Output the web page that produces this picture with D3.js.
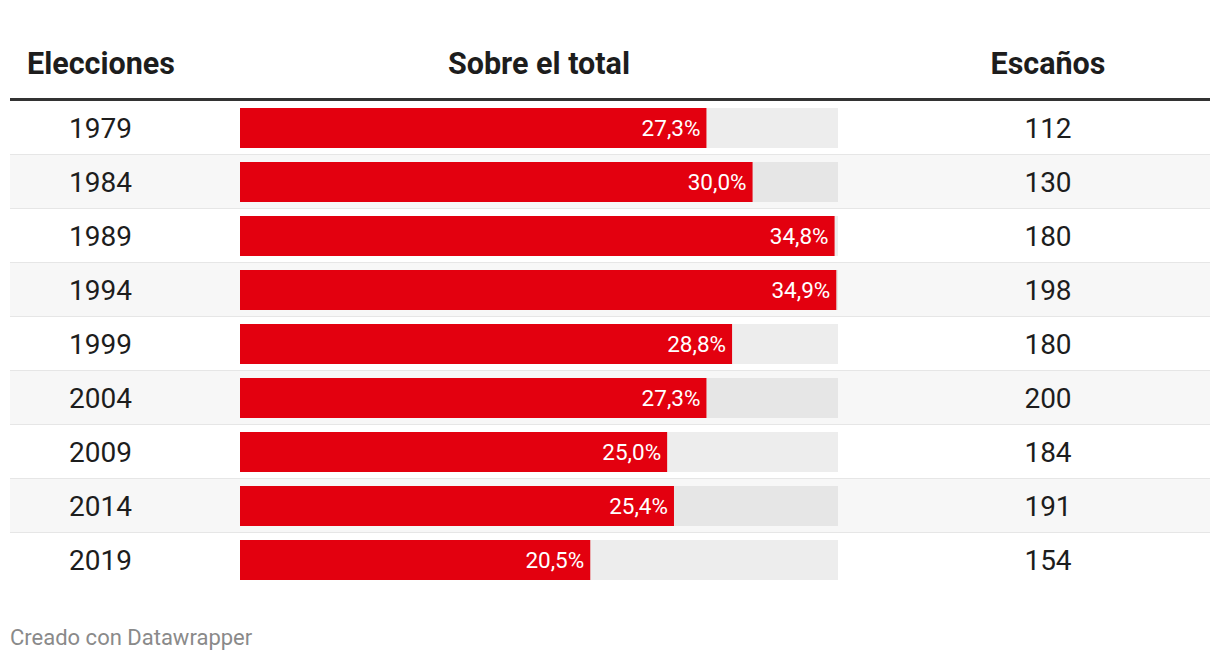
<!DOCTYPE html>
<html><head><meta charset="utf-8">
<script src="https://cdn.jsdelivr.net/npm/d3@7"></script>
<style>body{margin:0;background:#fff;font-family:Roboto,sans-serif}</style>
</head><body><svg id="c" width="1220" height="662"></svg>
<script>
const years = ["1979","1984","1989","1994","1999","2004","2009","2014","2019"];
const shares = [27.3,30.0,34.8,34.9,28.8,27.3,25.0,25.4,20.5];
const seats = [112,130,180,198,180,200,184,191,154];
const headers = ["Elecciones","Sobre el total","Escaños"];

const svg = d3.select("#c");
const fmt = v => d3.format(".1f")(v).replace(".", ",") + "%";
const top0 = 101, rowH = 54;
const y = d3.scaleBand().domain(years).range([top0, top0 + rowH*years.length]).padding(0);
const x = d3.scaleLinear().domain([0,35]).range([240,838]);

// headers
svg.append("text").attr("x",27).attr("y",74).text(headers[0])
  .attr("font-size",30.5).attr("font-weight",700).attr("fill","#1d1d1d");
svg.append("text").attr("x",539).attr("y",74).attr("text-anchor","middle").text(headers[1])
  .attr("font-size",30.5).attr("font-weight",700).attr("fill","#1d1d1d");
svg.append("text").attr("x",1048).attr("y",74).attr("text-anchor","middle").text(headers[2])
  .attr("font-size",30.5).attr("font-weight",700).attr("fill","#1d1d1d");

const rows = svg.selectAll("g.row").data(years).join("g").attr("class","row")
  .attr("transform", d => `translate(0,${y(d)})`);
rows.append("rect").attr("x",10).attr("width",1200).attr("height",rowH)
  .attr("fill",(d,i)=> i%2 ? "#f7f7f7" : "#fff");
rows.filter((d,i)=> i < years.length-1).append("rect").attr("x",10).attr("width",1200)
  .attr("y",rowH-1).attr("height",2).attr("fill","#e6e6e6");
rows.append("rect").attr("x",x(0)).attr("y",7).attr("height",40)
  .attr("width",x(35)-x(0)).attr("fill",(d,i)=> i%2 ? "#e6e6e6" : "#ededed");
rows.append("rect").attr("x",x(0)).attr("y",7).attr("height",40)
  .attr("width",(d,i)=> x(shares[i])-x(0)).attr("fill","#e3000f");
rows.append("text").attr("x",(d,i)=> x(shares[i])-6).attr("y",35).attr("text-anchor","end")
  .attr("font-size",22.5).attr("font-weight",400).attr("fill","#fff").text((d,i)=>fmt(shares[i]));
rows.append("text").attr("x",100.5).attr("y",37).attr("text-anchor","middle")
  .attr("font-size",28).attr("fill","#1d1d1d").text(d=>d);
rows.append("text").attr("x",1048).attr("y",37).attr("text-anchor","middle")
  .attr("font-size",28).attr("fill","#1d1d1d").text((d,i)=>seats[i]);

svg.append("rect").attr("x",10).attr("y",98).attr("width",1200).attr("height",3).attr("fill","#333");

svg.append("text").attr("x",10).attr("y",645).attr("font-size",22).attr("fill","#8a8a8a")
  .text("Creado con Datawrapper");
</script></body></html>
